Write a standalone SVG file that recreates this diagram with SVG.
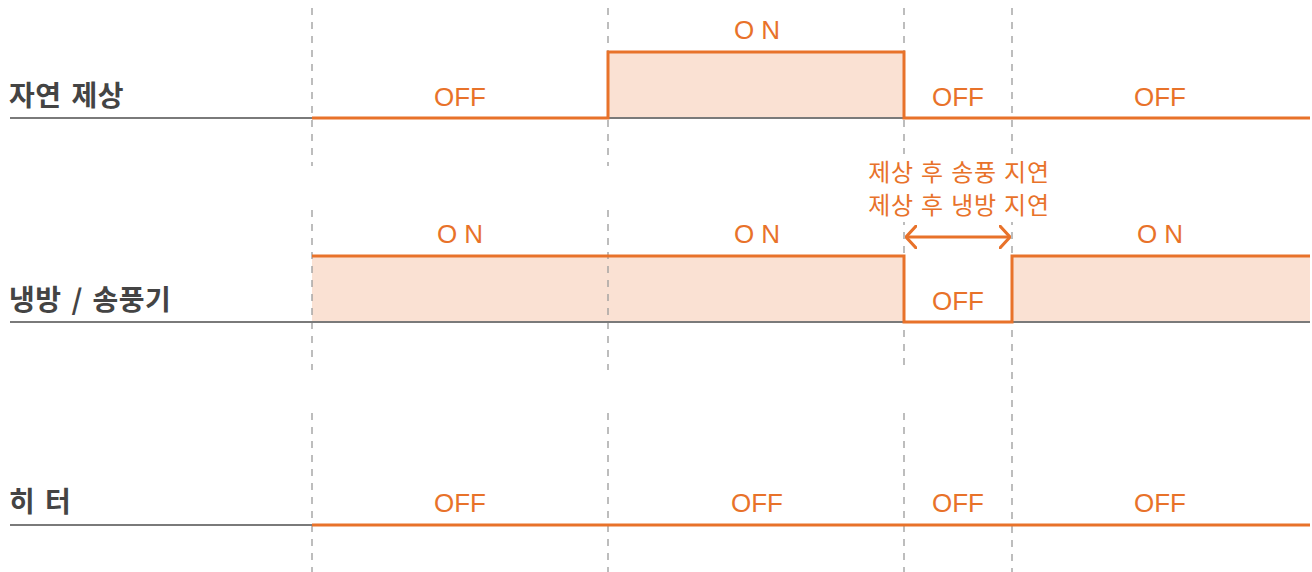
<svg xmlns="http://www.w3.org/2000/svg" width="1312" height="572" viewBox="0 0 1312 572">
  <style>
    .grid { stroke: #9a9a9a; stroke-width: 1.3; stroke-dasharray: 7 7; fill: none; }
    .base { stroke: #7a7a7a; stroke-width: 2; fill: none; }
    .sig { stroke: #E8722A; stroke-width: 3; fill: none; stroke-linejoin: miter; }
    .on { fill: #FAE1D3; stroke: none; }
    .row { font-family: "Noto Sans CJK KR", "Noto Sans", sans-serif; font-weight: 700; font-size: 28px; fill: #444444; letter-spacing: 0.5px; word-spacing: 3px; }
    .state { font-family: "Liberation Sans", Arial, sans-serif; font-size: 26px; fill: #E8722A; text-anchor: middle; }
    .note { font-family: "Noto Sans CJK KR", "Noto Sans", sans-serif; font-size: 24px; fill: #E8722A; text-anchor: middle; letter-spacing: 0.8px; word-spacing: 1px; }
  </style>
  <defs>
    <marker id="chev" viewBox="0 0 12 24" refX="11" refY="12" markerWidth="12" markerHeight="24" markerUnits="userSpaceOnUse" orient="auto-start-reverse">
      <path d="M1,1 L11,12 L1,23" fill="none" stroke="#E8722A" stroke-width="3" stroke-linecap="round" stroke-linejoin="round"/>
    </marker>
  </defs>

  <rect width="1312" height="572" fill="#ffffff"/>

  <!-- shaded ON areas -->
  <g id="fills">
    <rect class="on" x="608" y="52" width="296" height="66"/>
    <rect class="on" x="312" y="256" width="592" height="66"/>
    <rect class="on" x="1012" y="256" width="298" height="66"/>
  </g>

  <!-- time division lines -->
  <g id="grid">
    <line class="grid" x1="312" y1="8" x2="312" y2="166"/>
    <line class="grid" x1="312" y1="210" x2="312" y2="370"/>
    <line class="grid" x1="312" y1="413" x2="312" y2="572"/>
    <line class="grid" x1="608" y1="8" x2="608" y2="166"/>
    <line class="grid" x1="608" y1="210" x2="608" y2="370"/>
    <line class="grid" x1="608" y1="413" x2="608" y2="572"/>
    <line class="grid" x1="904" y1="8" x2="904" y2="370"/>
    <line class="grid" x1="904" y1="413" x2="904" y2="572"/>
    <line class="grid" x1="1012" y1="8" x2="1012" y2="572"/>
  </g>

  <!-- row: natural defrost -->
  <g id="defrost">
    <line class="base" x1="10" y1="118" x2="1310" y2="118"/>
    <path class="sig" d="M312,118 H608 V52 H904 V118 H1310"/>
    <text class="row" x="9" y="106">자연 제상</text>
    <text class="state" x="460" y="106">OFF</text>
    <text class="state" x="757" y="39">O N</text>
    <text class="state" x="958" y="106">OFF</text>
    <text class="state" x="1160" y="106">OFF</text>
  </g>

  <!-- row: cooling / fan -->
  <g id="cooling-fan">
    <line class="base" x1="10" y1="322" x2="1310" y2="322"/>
    <path class="sig" d="M312,256 H904 V322 H1012 V256 H1310"/>
    <text class="row" x="9" y="310">냉방 / 송풍기</text>
    <text class="state" x="460" y="243">O N</text>
    <text class="state" x="757" y="243">O N</text>
    <text class="state" x="958" y="310">OFF</text>
    <text class="state" x="1160" y="243">O N</text>
  </g>

  <!-- row: heater -->
  <g id="heater">
    <line class="base" x1="10" y1="525" x2="312" y2="525"/>
    <path class="sig" d="M312,525 H1310"/>
    <text class="row" x="9" y="512">히 터</text>
    <text class="state" x="460" y="512">OFF</text>
    <text class="state" x="757" y="512">OFF</text>
    <text class="state" x="958" y="512">OFF</text>
    <text class="state" x="1160" y="512">OFF</text>
  </g>

  <!-- delay annotation -->
  <g id="delay-note">
    <rect x="862" y="154" width="194" height="68" fill="#ffffff"/>
    <text class="note" x="959" y="181">제상 후 송풍 지연</text>
    <text class="note" x="959" y="214">제상 후 냉방 지연</text>
  </g>

  <g id="connectors">
    <line x1="906" y1="237" x2="1010" y2="237" stroke="#E8722A" stroke-width="3" marker-start="url(#chev)" marker-end="url(#chev)"/>
  </g>
</svg>
